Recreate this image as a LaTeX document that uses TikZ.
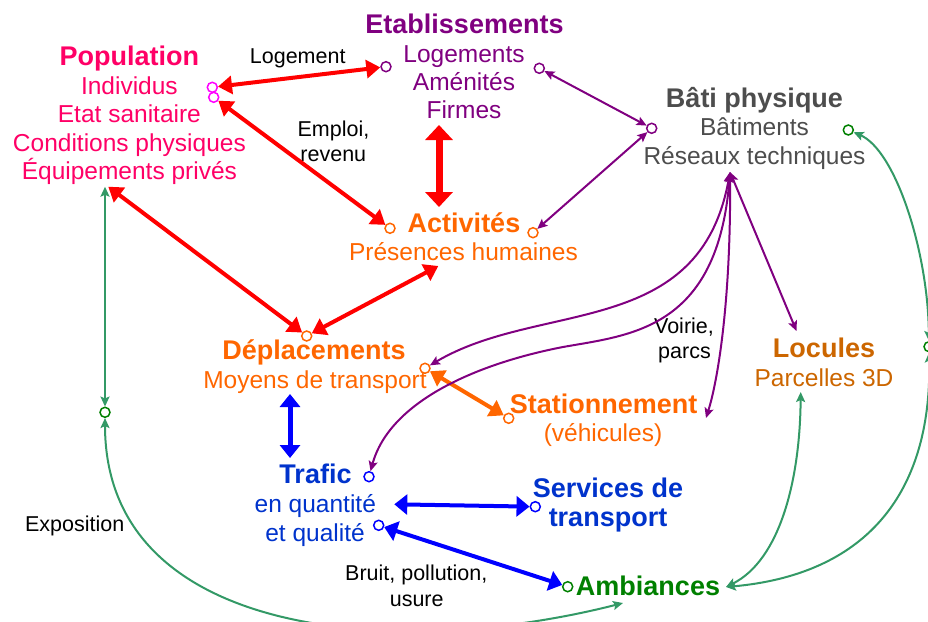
\documentclass[tikz,border=0pt]{standalone}
\usepackage{fontspec}
\setmainfont{Liberation Sans}
\usetikzlibrary{arrows.meta}
\definecolor{cpop}{RGB}{255,0,102}
\definecolor{cmag}{RGB}{255,0,255}
\definecolor{cpur}{RGB}{128,0,128}
\definecolor{cgray}{RGB}{77,77,77}
\definecolor{corange}{RGB}{255,102,0}
\definecolor{cloc}{RGB}{204,102,0}
\definecolor{cbluet}{RGB}{0,51,204}
\definecolor{cblue}{RGB}{0,0,255}
\definecolor{cgreent}{RGB}{0,128,0}
\definecolor{cgreen}{RGB}{51,153,102}
\definecolor{cred}{RGB}{255,0,0}
\tikzset{
  ttl/.style={anchor=base, inner sep=0pt, font=\fontsize{27}{30}\selectfont\bfseries},
  bdy/.style={anchor=base, inner sep=0pt, font=\fontsize{24.5}{28}\selectfont},
  lbl/.style={anchor=base, inner sep=0pt, font=\fontsize{21.5}{24}\selectfont, text=black},
  port/.style={circle, draw, line width=1.5pt, minimum size=10pt, inner sep=0pt},
  bigtip/.tip={Triangle[length=14pt,width=18pt]},
  hugetip/.tip={Triangle[length=15pt,width=27pt]},
  bluetip/.tip={Triangle[length=13pt,width=20pt]},
  thintip/.tip={Stealth[length=10pt,width=9pt,inset=2pt]},
  redarr/.style={draw=cred, line width=4pt, bigtip-bigtip},
  redfat/.style={draw=cred, line width=7pt, hugetip-hugetip},
  orarr/.style={draw=corange, line width=4pt, bigtip-bigtip},
  bluarr/.style={draw=cblue, line width=4pt, bluetip-bluetip},
  bluvert/.style={draw=cblue, line width=5pt, bluetip-bluetip},
  purarr/.style={draw=cpur, line width=2pt, thintip-thintip},
  grnarr/.style={draw=cgreen, line width=2pt, thintip-thintip},
}
\begin{document}
\begin{tikzpicture}[x=1pt,y=-1pt]
\useasboundingbox (0,0) rectangle (928,621);
% ---- Population
\node[ttl, text=cpop] (pop) at (129.4,65) {Population};
\node[bdy, text=cpop] (pop1) at (129.4,94) {Individus};
\node[bdy, text=cpop] (pop2) at (129.4,122.5) {Etat sanitaire};
\node[bdy, text=cpop] (pop3) at (129.4,151) {Conditions physiques};
\node[bdy, text=cpop] (pop4) at (129.4,179.5) {Équipements privés};
% ---- Etablissements
\node[ttl, text=cpur] (etab) at (464.5,33) {Etablissements};
\node[bdy, text=cpur] (etab1) at (464,62) {Logements};
\node[bdy, text=cpur] (etab2) at (464,90.5) {Aménités};
\node[bdy, text=cpur] (etab3) at (464,118.5) {Firmes};
% ---- Bati
\node[ttl, text=cgray] (bati) at (754.5,107) {Bâti physique};
\node[bdy, text=cgray] (bati1) at (754.5,135) {Bâtiments};
\node[bdy, text=cgray] (bati2) at (754.5,164) {Réseaux techniques};
% ---- Activites
\node[ttl, text=corange] (act) at (464,232.3) {Activités};
\node[bdy, text=corange] (act1) at (463.5,260.7) {Présences humaines};
% ---- Deplacements
\node[ttl, text=corange] (dep) at (314,359.3) {Déplacements};
\node[bdy, text=corange] (dep1) at (315,388.3) {Moyens de transport};
% ---- Stationnement
\node[ttl, text=corange] (stat) at (603.7,413.3) {Stationnement};
\node[bdy, text=corange] (stat1) at (603,441.7) {(véhicules)};
% ---- Locules
\node[ttl, text=cloc] (loc) at (824,357.7) {Locules};
\node[bdy, text=cloc] (loc1) at (824,386) {Parcelles 3D};
% ---- Trafic
\node[ttl, text=cbluet] (traf) at (315.5,483.3) {Trafic};
\node[bdy, text=cbluet] (traf1) at (315.3,512.7) {en quantité};
\node[bdy, text=cbluet] (traf2) at (315,541.7) {et qualité};
% ---- Services
\node[ttl, text=cbluet] (serv) at (608,497.3) {Services de};
\node[ttl, text=cbluet] (serv1) at (608,526.7) {transport};
% ---- Ambiances
\node[ttl, text=cgreent] (amb) at (648,595.7) {Ambiances};
% ---- labels
\node[lbl] (llog) at (297.7,63.3) {Logement};
\node[lbl] (lemp) at (333.5,136) {Emploi,};
\node[lbl] (lrev) at (333.3,161.7) {revenu};
\node[lbl] (lexp) at (74.7,531.7) {Exposition};
\node[lbl] (lvoi) at (684,333.3) {Voirie,};
\node[lbl] (lpar) at (684.5,358.3) {parcs};
\node[lbl] (lbru) at (416.3,580) {Bruit, pollution,};
\node[lbl] (lusu) at (416.7,606) {usure};
% ---- ports
\node[port, draw=cmag] (popa) at (212.3,87.3) {};
\node[port, draw=cmag] (popb) at (213.7,97.3) {};
\node[port, draw=cpur] (etabl) at (386,66.7) {};
\node[port, draw=cpur] (etabr) at (539.3,68.3) {};
\node[port, draw=cpur] (batil) at (651.7,128.3) {};
\node[port, draw=cgreent] (batir) at (848.3,130) {};
\node[port, draw=corange] (actl) at (390,228.3) {};
\node[port, draw=corange] (actr) at (533,232.7) {};
\node[port, draw=corange] (dept) at (306.7,336) {};
\node[port, draw=corange] (depr) at (425,368.3) {};
\node[port, draw=corange] (statl) at (508.7,418.3) {};
\node[port, draw=cblue] (traft) at (369,476.7) {};
\node[port, draw=cblue] (trafb) at (378.7,525.3) {};
\node[port, draw=cblue] (servl) at (535.3,506.7) {};
\node[port, draw=cgreent] (ambl) at (567.7,586.7) {};
\node[port, draw=cgreent] (jl) at (105,412.3) {};
\node[port, draw=cgreent] (jr) at (929,346.7) {};
% ---- free ends
\coordinate (etabbot) at (439,125);
\coordinate (acttop) at (439,207);
\coordinate (popbot) at (108.3,186.7);
\coordinate (actbot) at (438.3,266);
\coordinate (depbot) at (290,394);
\coordinate (traftop) at (290,458);
\coordinate (trafmid) at (394.3,504.3);
\coordinate (batib) at (730,172);
\coordinate (statr) at (706,418);
\coordinate (loctop) at (796.5,331);
\coordinate (popgreen) at (105,186.7);
\coordinate (ambr) at (726,587);
\coordinate (locbot) at (800.7,392);
% ---- red
\draw[redarr] (popa) -- (etabl);
\draw[redarr] (popb) -- (actl);
\draw[redfat] (etabbot) -- (acttop);
\draw[redarr] (popbot) -- (dept);
\draw[redarr] (actbot) -- (dept);
% ---- orange
\draw[orarr] (depr) -- (statl);
% ---- blue
\draw[bluvert] (depbot) -- (traftop);
\draw[bluarr] (trafmid) -- (servl);
\draw[bluarr] (trafb) -- (ambl);
% ---- purple
\draw[purarr] (etabr) -- (batil);
\draw[purarr] (batil) -- (actr);
\draw[purarr] (batib) .. controls (700,340) and (540,300) .. (depr);
\draw[purarr] (batib) .. controls (718,330) and (630,335) .. (563,347)
   .. controls (480,363) and (390,400) .. (traft);
\draw[purarr] (batib) .. controls (731,300) and (718,380) .. (statr);
\draw[purarr] (batib) -- (loctop);
% ---- green
\draw[grnarr] (popgreen) -- (jl);
\draw[grnarr] (jl) .. controls (105,640) and (400,660) .. (623,603);
\draw[grnarr] (batir) .. controls (895,150) and (928,250) .. (jr);
\draw[grnarr] (jr) .. controls (932,500) and (860,575) .. (ambr);
\draw[grnarr] (locbot) .. controls (800,480) and (780,560) .. (ambr);
\end{tikzpicture}
\end{document}
